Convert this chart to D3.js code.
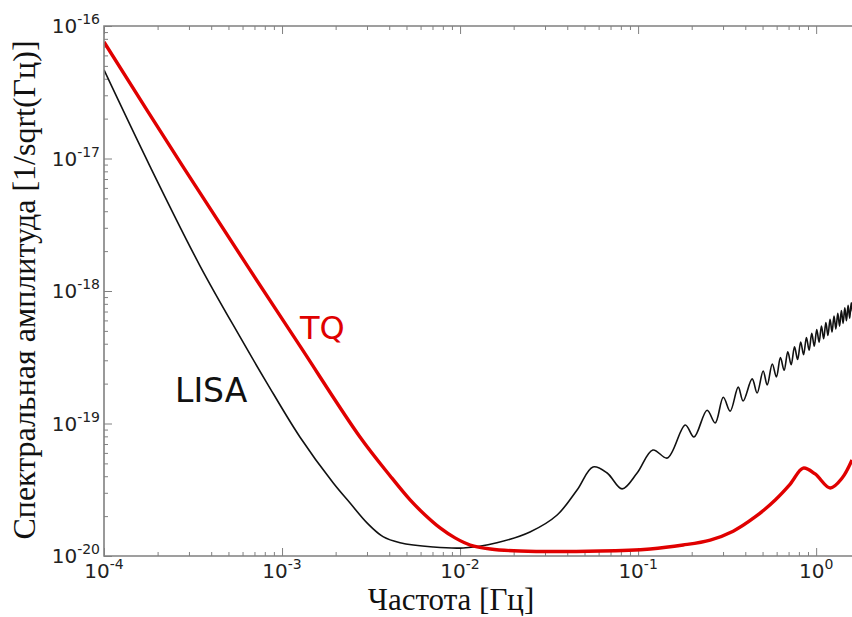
<!DOCTYPE html>
<html>
<head>
<meta charset="utf-8">
<script src="https://cdn.jsdelivr.net/npm/d3@7"></script>
<style>
  body { margin: 0; background: #fff; }
  svg { display: block; }
</style>
</head>
<body>
<div id="chart"></div>
<script>
// LISA sensitivity curve (Hz, 1/sqrt(Hz))
const lisaFreq = [
  1.0e-4, 1.81e-4, 3.46e-4, 5.81e-4, 8.23e-4, 1.26e-3, 1.94e-3, 2.41e-3,
  3.01e-3, 3.69e-3, 4.60e-3, 7.05e-3, 1.04e-2, 1.61e-2, 2.47e-2, 3.51e-2,
  4.54e-2, 5.58e-2, 6.70e-2, 8.13e-2, 9.87e-2, 0.121, 0.146, 0.184, 0.206,
  0.244, 0.271, 0.301, 0.329, 0.365, 0.389, 0.437, 0.466, 0.504, 0.531,
  0.567, 0.598, 0.630, 0.661, 0.693, 0.724, 0.756, 0.787, 0.819, 0.850,
  0.882, 0.913, 0.945, 0.976, 1.008, 1.039, 1.071, 1.102, 1.134, 1.165,
  1.197, 1.228, 1.260, 1.291, 1.323, 1.354, 1.386, 1.417, 1.449, 1.480,
  1.512, 1.543, 1.575, 1.60
];
const lisaAmp = [
  4.66e-17, 8.77e-18, 1.55e-18, 4.50e-19, 2.02e-19, 7.91e-20, 3.55e-20, 2.51e-20,
  1.77e-20, 1.40e-20, 1.26e-20, 1.17e-20, 1.15e-20, 1.26e-20, 1.52e-20, 2.04e-20,
  3.15e-20, 4.70e-20, 4.23e-20, 3.21e-20, 4.23e-20, 6.31e-20, 5.49e-20, 9.75e-20, 7.91e-20,
  1.26e-19, 1.01e-19, 1.58e-19, 1.24e-19, 1.88e-19, 1.48e-19, 2.17e-19, 1.70e-19, 2.49e-19, 1.95e-19,
  2.81e-19, 2.25e-19, 3.14e-19, 2.52e-19, 3.47e-19, 2.78e-19, 3.79e-19, 3.04e-19, 4.12e-19, 3.30e-19,
  4.46e-19, 3.57e-19, 4.79e-19, 3.83e-19, 5.12e-19, 4.10e-19, 5.45e-19, 4.36e-19, 5.78e-19, 4.62e-19,
  6.12e-19, 4.90e-19, 6.46e-19, 5.17e-19, 6.79e-19, 5.43e-19, 7.13e-19, 5.70e-19, 7.46e-19, 5.97e-19,
  7.80e-19, 6.24e-19, 8.15e-19, 7.0e-19
];

// TianQin (TQ) curve
const tqFreq = [
  1.0e-4, 2.67e-4, 6.44e-4, 1.26e-3, 2.74e-3, 4.05e-3, 5.24e-3, 6.36e-3,
  7.72e-3, 9.37e-3, 1.14e-2, 1.48e-2, 2.17e-2, 6.12e-2, 0.117, 0.179, 0.254,
  0.342, 0.454, 0.589, 0.715, 0.846, 0.987, 1.20, 1.40, 1.59
];
const tqAmp = [
  7.57e-17, 9.42e-18, 1.52e-18, 3.85e-19, 7.91e-20, 4.02e-20, 2.65e-20, 2.04e-20,
  1.63e-20, 1.37e-20, 1.21e-20, 1.13e-20, 1.09e-20, 1.09e-20, 1.13e-20, 1.21e-20, 1.32e-20,
  1.54e-20, 1.97e-20, 2.65e-20, 3.49e-20, 4.61e-20, 4.16e-20, 3.26e-20, 3.88e-20, 5.31e-20
];

const xTickExps = [-4, -3, -2, -1, 0];
const yTickExps = [-20, -19, -18, -17, -16];
const xDomain = [1e-4, 1.59];
const yDomain = [1e-20, 1e-16];

(function() {
  const WIDTH = 852;
  const HEIGHT = 617;
  const plot = { left: 104, right: 852, top: 26, bottom: 556 };
  const SPINE = "#808080";
  const TICKFONT = "DejaVu Sans, sans-serif";
  const TITLEFONT = "Liberation Serif, Times New Roman, serif";

  const svg = d3.select("#chart").append("svg")
    .attr("width", WIDTH)
    .attr("height", HEIGHT)
    .style("background", "#fff");

  const x = d3.scaleLog().domain(xDomain).range([plot.left, plot.right]);
  const y = d3.scaleLog().domain(yDomain).range([plot.bottom, plot.top]);

  svg.append("clipPath").attr("id", "plotClip")
    .append("rect")
    .attr("x", plot.left).attr("y", plot.top)
    .attr("width", plot.right - plot.left).attr("height", plot.bottom - plot.top);

  // ticks (inward, matplotlib classic style)
  const isMajor = v => Math.abs(Math.log10(v) - Math.round(Math.log10(v))) < 1e-6;
  const xMajor = xTickExps.map(e => Math.pow(10, e));
  const yMajor = yTickExps.map(e => Math.pow(10, e));
  const xMinor = x.ticks().filter(v => !isMajor(v));
  const yMinor = y.ticks().filter(v => !isMajor(v));

  function drawAxis(gen, transform) {
    const g = svg.append("g").attr("transform", transform).call(gen);
    g.selectAll("text").remove();
    g.select(".domain").remove();
    g.selectAll("line").attr("stroke", SPINE).attr("stroke-width", 1);
    return g;
  }

  const bottom = `translate(0,${plot.bottom})`;
  const top = `translate(0,${plot.top})`;
  const left = `translate(${plot.left},0)`;
  drawAxis(d3.axisBottom(x).tickValues(xMajor).tickSize(-8), bottom);
  drawAxis(d3.axisBottom(x).tickValues(xMinor).tickSize(-4), bottom);
  drawAxis(d3.axisTop(x).tickValues(xMajor).tickSize(-8), top);
  drawAxis(d3.axisTop(x).tickValues(xMinor).tickSize(-4), top);
  drawAxis(d3.axisLeft(y).tickValues(yMajor).tickSize(-8), left);
  drawAxis(d3.axisLeft(y).tickValues(yMinor).tickSize(-4), left);

  // curves
  const line = d3.line()
    .x(d => x(d[0]))
    .y(d => y(d[1]))
    .curve(d3.curveCatmullRom.alpha(0.5));

  const lines = svg.append("g").attr("clip-path", "url(#plotClip)");
  lines.append("path")
    .attr("d", line(d3.zip(lisaFreq, lisaAmp)))
    .attr("fill", "none")
    .attr("stroke", "#111")
    .attr("stroke-width", 1.6);
  lines.append("path")
    .attr("d", line(d3.zip(tqFreq, tqAmp)))
    .attr("fill", "none")
    .attr("stroke", "#e00000")
    .attr("stroke-width", 3.4);

  // spines
  svg.append("path")
    .attr("d", `M${plot.right},${plot.top}H${plot.left}V${plot.bottom}H${plot.right}`)
    .attr("fill", "none")
    .attr("stroke", SPINE)
    .attr("stroke-width", 1.6);

  // tick labels
  function powerLabel(g, e, px, py, anchor) {
    const t = g.append("text")
      .attr("x", px).attr("y", py)
      .attr("text-anchor", anchor)
      .style("font-family", TICKFONT)
      .style("font-size", "20px")
      .style("fill", "#222");
    t.append("tspan").text("10");
    t.append("tspan").attr("dy", -9).style("font-size", "14px").text(e);
  }

  const labels = svg.append("g");
  xTickExps.forEach(e => powerLabel(labels, e, x(Math.pow(10, e)), 578, "middle"));
  yTickExps.forEach(e => powerLabel(labels, e, 100, y(Math.pow(10, e)) + 7, "end"));

  // axis titles
  svg.append("text")
    .attr("x", 451).attr("y", 610)
    .attr("text-anchor", "middle")
    .style("font-family", TITLEFONT)
    .style("font-size", "31px")
    .style("fill", "#111")
    .text("Частота [Гц]");

  svg.append("text")
    .attr("transform", "translate(35,290) rotate(-90)")
    .attr("text-anchor", "middle")
    .style("font-family", TITLEFONT)
    .style("font-size", "32px")
    .style("fill", "#111")
    .text("Спектральная амплитуда [1/sqrt(Гц)]");

  // curve annotations
  svg.append("text")
    .attr("x", 175).attr("y", 402)
    .style("font-family", TICKFONT)
    .style("font-size", "33px")
    .style("fill", "#111")
    .text("LISA");

  svg.append("text")
    .attr("x", 300).attr("y", 339)
    .style("font-family", TICKFONT)
    .style("font-size", "32px")
    .style("fill", "#e00000")
    .text("TQ");
})();
</script>
</body>
</html>
